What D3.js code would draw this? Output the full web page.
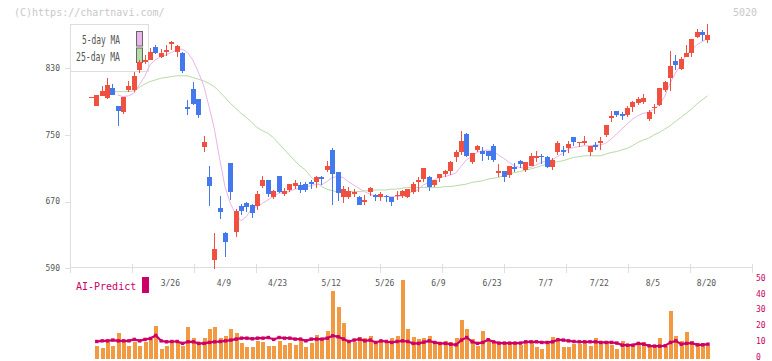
<!DOCTYPE html>
<html><head><meta charset="utf-8">
<script src="https://cdn.jsdelivr.net/npm/d3@7"></script>
<style>html,body{margin:0;padding:0;background:#fff;}svg{display:block;}</style>
</head><body>
<svg id="chart" width="772" height="361"></svg>
<script>
const dates = ["3/4","3/5","3/6","3/7","3/10","3/11","3/12","3/13","3/14","3/17","3/18","3/19","3/21","3/24","3/25","3/26","3/27","3/28","3/31","4/1","4/2","4/3","4/4","4/7","4/8","4/9","4/10","4/11","4/14","4/15","4/16","4/17","4/18","4/21","4/22","4/23","4/24","4/25","4/28","4/30","5/1","5/2","5/7","5/8","5/9","5/12","5/13","5/14","5/15","5/16","5/19","5/20","5/21","5/22","5/23","5/26","5/27","5/28","5/29","5/30","6/2","6/3","6/4","6/5","6/6","6/9","6/10","6/11","6/12","6/13","6/16","6/17","6/18","6/19","6/20","6/23","6/24","6/25","6/26","6/27","6/30","7/1","7/2","7/3","7/4","7/7","7/8","7/9","7/10","7/11","7/14","7/15","7/16","7/17","7/18","7/22","7/23","7/24","7/25","7/28","7/29","7/30","7/31","8/1","8/4","8/5","8/6","8/7","8/8","8/12","8/13","8/14","8/15","8/18","8/19","8/20"];

const open = [796,785,797,794,806,785,778,804,804,828,838,840,855,844,850,859,850,848,783,805,793,736,700,600,662,632,716,634,665,668,666,665,689,696,676,701,679,684,689,690,691,694,693,699,708,732,706,675,675,679,676,670,682,678,675,677,675,677,677,675,681,693,697,700,690,698,703,707,724,730,751,718,732,731,731,737,704,707,702,711,719,708,713,722,725,724,711,730,732,734,748,740,740,730,738,740,750,770,779,775,774,784,788,790,769,782,786,804,818,839,829,844,848,868,874,864];
const high = [796,798,809,818,811,785,796,815,826,840,846,854,858,853,858,863,858,849,792,813,793,749,713,632,677,634,716,661,667,669,667,683,701,696,684,701,686,691,696,694,694,696,701,701,719,734,706,689,687,685,677,678,687,679,681,678,676,683,684,685,694,700,710,701,696,703,708,719,732,755,752,728,738,735,731,739,715,707,713,716,720,718,728,731,727,725,722,743,737,743,748,742,749,737,742,747,762,779,779,778,785,791,796,799,780,787,806,815,851,846,843,858,865,877,876,883];
const low = [796,785,797,794,798,761,776,802,802,825,836,840,848,843,845,853,844,825,775,786,771,730,665,590,650,604,672,628,655,658,651,660,687,676,674,681,677,682,686,681,682,686,687,691,706,667,671,669,674,676,666,667,677,671,671,670,665,672,675,675,680,682,694,683,688,694,700,703,718,727,724,716,730,719,720,718,700,694,699,706,711,706,713,718,716,711,709,726,725,729,737,736,738,725,732,733,748,766,772,769,772,778,787,788,767,776,785,802,803,828,828,844,844,867,863,861];
const close = [796,798,803,810,798,779,796,809,821,837,840,850,848,848,852,862,857,827,782,787,774,741,689,613,658,621,681,659,659,663,656,679,696,679,683,682,683,691,692,684,684,691,700,697,713,703,680,685,683,682,666,672,686,676,679,675,670,678,683,685,691,696,710,688,696,703,707,718,730,743,725,728,737,727,725,720,707,700,713,709,715,718,725,725,723,712,720,740,729,739,742,742,743,737,736,743,762,773,774,773,782,790,793,794,778,784,806,814,833,834,841,848,865,874,870,870];

const volume = [null,8.0,6.5,10.1,8.0,15.8,11.1,8.0,10.1,8.0,10.1,12.2,20.6,5.9,8.0,11.1,9.5,8.0,19.5,12.8,9.5,13.2,18.7,20.0,12.8,14.3,18.7,15.8,9.5,7.4,7.4,11.1,10.1,8.0,8.0,10.7,8.6,9.5,8.6,11.1,7.4,9.5,14.9,12.2,17.4,42.6,32.6,22.1,10.7,10.1,13.7,12.8,14.3,10.7,11.1,9.5,12.8,14.3,49.6,18.7,13.7,12.2,13.2,14.3,10.7,9.0,10.7,10.1,13.2,24.4,18.7,12.2,8.0,17.4,11.6,10.7,9.5,9.5,9.5,9.5,8.6,10.5,10.5,7.4,6.1,10.1,13.7,10.7,7.4,7.4,9.0,9.0,10.1,8.0,12.6,10.1,9.5,8.6,6.1,10.7,8.6,8.0,9.5,10.1,7.4,8.6,12.6,8.0,30.0,14.3,11.1,16.4,10.7,9.5,9.5,8.0];
const aiPredict = [null,10.7,11.1,11.1,11.6,11.1,11.1,11.1,12.0,11.1,12.0,12.6,14.5,11.1,10.5,10.7,10.7,9.5,10.5,10.5,9.5,9.5,10.1,10.5,10.7,11.1,11.6,12.2,12.8,12.8,12.4,12.8,12.8,13.2,12.0,13.2,12.8,12.8,12.2,12.2,11.1,12.2,12.2,12.2,12.8,14.3,13.7,12.2,10.7,11.6,12.2,11.1,11.6,10.1,11.1,10.7,10.1,10.7,11.1,10.7,9.5,9.5,10.3,11.1,10.1,9.5,9.5,9.0,8.6,11.6,13.2,10.5,9.5,10.1,11.8,10.5,9.7,9.7,9.7,9.7,9.7,10.5,10.5,10.5,10.1,10.1,10.5,11.8,11.6,11.1,10.7,10.5,10.5,10.5,10.5,10.1,10.1,10.1,9.7,8.4,8.4,8.4,9.5,9.0,8.0,7.8,7.8,8.0,10.1,11.1,9.0,9.5,9.7,8.6,8.6,9.0];

const ma5 = [null,null,null,null,null,798,796,797,800,810,820,834,840,844,846,849,852,853,849,840,826,810,785,758,722,688,668,655,647,652,662,664,668,672,676,680,681,682,685,686,688,689,691,690,694,699,700,699,694,690,686,682,679,677,676,676,676,676,677,680,682,684,690,693,696,699,700,702,704,712,720,724,729,731,732,731,726,722,717,713,711,710,711,714,717,719,720,724,728,733,735,736,737,737,738,738,740,745,751,757,763,769,773,776,777,781,786,796,812,824,834,846,852,858,862,866];
const ma25 = [null,null,null,null,802,802,802,802,803,807,811,814,816,818,819,820,821,821,821,819,817,815,812,808,802,795,788,782,776,771,765,759,755,752,747,740,733,726,719,713,708,700,694,688,685,683,682,682,682,682,682,683,683,684,684,684,685,685,686,687,687,687,687,687,687,687,688,688,689,690,691,693,694,695,697,698,699,701,703,705,706,708,709,711,713,715,716,718,719,721,723,724,725,725,725,725,727,729,730,732,734,737,741,744,746,750,753,757,761,766,771,776,781,787,792,797];

const priceTicks = [590, 670, 750, 830];
const volTicks = [0, 10, 20, 30, 40, 50];
const dateLabels = ["3/26","4/9","4/23","5/12","5/26","6/9","6/23","7/7","7/22","8/5","8/20"];
const legendNames = ["5-day MA", "25-day MA"];
const ticker = "5020";
const copyright = "(C)https://chartnavi.com/";

const svg = d3.select("#chart");
const mono = "'DejaVu Sans Mono', monospace";
const RED = "#ef5040", BLUE = "#4479ee", AXIS = "#dedede";
const PINK = "#e9b5ea", GREEN = "#b6dba6", MAG = "#cc0066", ORANGE = "#f19a42";

const x = d3.scaleLinear().domain([-3.9, 123.3]).range([70, 752]);
const y = d3.scaleLinear().domain([590, 830]).range([268.3, 68.3]);
const yv = d3.scaleLinear().domain([0, 50]).range([358.5, 279]);

// copyright / ticker
svg.append("text").attr("x", 14).attr("y", 16).attr("font-family", mono).attr("font-size", 10)
  .attr("fill", "#c8c8c8").text(copyright);
svg.append("text").attr("x", 757).attr("y", 16).attr("text-anchor", "end").attr("font-family", mono)
  .attr("font-size", 10).attr("fill", "#c8c8c8").text(ticker);

// legend box (under marks)
const lg = svg.append("g");
lg.append("rect").attr("x", 70.5).attr("y", 24.5).attr("width", 78).attr("height", 47)
  .attr("fill", "#fff").attr("stroke", AXIS);
const legendFill = [PINK, GREEN];
const legendLen = [38, 44];
legendNames.forEach((n, i) => {
  lg.append("text").attr("x", 120 - legendLen[i]).attr("y", 44 + i * 16.5)
    .attr("font-family", mono).attr("font-size", 12.5).attr("fill", "#555")
    .attr("textLength", legendLen[i]).attr("lengthAdjust", "spacingAndGlyphs").text(n);
  lg.append("rect").attr("x", 136.5).attr("y", 31.5 + i * 16.5).attr("width", 6).attr("height", 14.5)
    .attr("fill", legendFill[i]).attr("stroke", "#666").attr("stroke-width", 1);
});

// axes
svg.append("line").attr("x1", 70.5).attr("x2", 70.5).attr("y1", 24).attr("y2", 273).attr("stroke", AXIS);
svg.append("line").attr("x1", 70).attr("x2", 753).attr("y1", 267.5).attr("y2", 267.5).attr("stroke", AXIS);
const tickScale = d3.scaleLinear().domain([0, 11]).range([70, 752]);
d3.range(1, 12).forEach(t => {
  const tx = Math.round(tickScale(t)) + 0.5;
  svg.append("line").attr("x1", tx).attr("x2", tx).attr("y1", 264).attr("y2", 273).attr("stroke", AXIS);
});
priceTicks.forEach(v => {
  const ty = Math.round(y(v)) + 0.5;
  svg.append("line").attr("x1", 65).attr("x2", 70).attr("y1", ty).attr("y2", ty).attr("stroke", AXIS);
  svg.append("text").attr("x", 60).attr("y", y(v)).attr("dy", "0.35em").attr("text-anchor", "end")
    .attr("font-family", mono).attr("font-size", 8).attr("fill", "#555").text(v);
});
dateLabels.forEach(d => {
  const i = dates.indexOf(d);
  svg.append("text").attr("x", x(i) - 1).attr("y", 285.5).attr("text-anchor", "middle")
    .attr("font-family", mono).attr("font-size", 8).attr("fill", "#555").text(d);
});

// moving averages
const lineGen = d3.line().defined(d => d[1] != null).x(d => x(d[0])).y(d => y(d[1]));
svg.append("path").datum(ma25.map((v, i) => [i, v])).attr("d", lineGen)
  .attr("fill", "none").attr("stroke", GREEN).attr("stroke-width", 1);
svg.append("path").datum(ma5.map((v, i) => [i, v])).attr("d", lineGen)
  .attr("fill", "none").attr("stroke", PINK).attr("stroke-width", 1);

// candles
const cg = svg.append("g").attr("shape-rendering", "crispEdges");
dates.forEach((d, i) => {
  const cx = Math.round(x(i));
  const up = close[i] >= open[i];
  const col = up ? RED : BLUE;
  cg.append("line").attr("x1", cx + 0.5).attr("x2", cx + 0.5)
    .attr("y1", y(high[i])).attr("y2", y(low[i]) + 0.5).attr("stroke", col).attr("stroke-width", 1);
  const top = y(Math.max(open[i], close[i])), bot = y(Math.min(open[i], close[i]));
  cg.append("rect").attr("x", cx - 2).attr("y", top).attr("width", 5)
    .attr("height", Math.max(1.2, bot - top)).attr("fill", col);
});

// volume
const vg = svg.append("g").attr("shape-rendering", "crispEdges");
volume.forEach((v, i) => {
  if (v == null) return;
  const cx = Math.round(x(i));
  vg.append("rect").attr("x", cx - 1.5).attr("y", yv(v)).attr("width", 4)
    .attr("height", yv(0) - yv(v)).attr("fill", ORANGE);
});
const aiLine = d3.line().defined(d => d[1] != null).x(d => x(d[0]) + 0.5).y(d => yv(d[1]));
svg.append("path").datum(aiPredict.map((v, i) => [i, v])).attr("d", aiLine)
  .attr("fill", "none").attr("stroke", MAG).attr("stroke-width", 2.2);
aiPredict.forEach((v, i) => {
  if (v == null) return;
  svg.append("rect").attr("x", x(i) + 0.5 - 1.7).attr("y", yv(v) - 1.7).attr("width", 3.4).attr("height", 3.4)
    .attr("fill", MAG);
});
volTicks.forEach(v => {
  svg.append("text").attr("x", 756).attr("y", yv(v) - 1.2).attr("dy", "0.35em")
    .attr("font-family", mono).attr("font-size", 8).attr("fill", MAG).text(v);
});
svg.append("text").attr("x", 76).attr("y", 290).attr("font-family", mono).attr("font-size", 10)
  .attr("fill", MAG).text("AI-Predict");
svg.append("rect").attr("x", 142).attr("y", 277).attr("width", 7).attr("height", 16).attr("fill", MAG);
</script>
</body></html>
